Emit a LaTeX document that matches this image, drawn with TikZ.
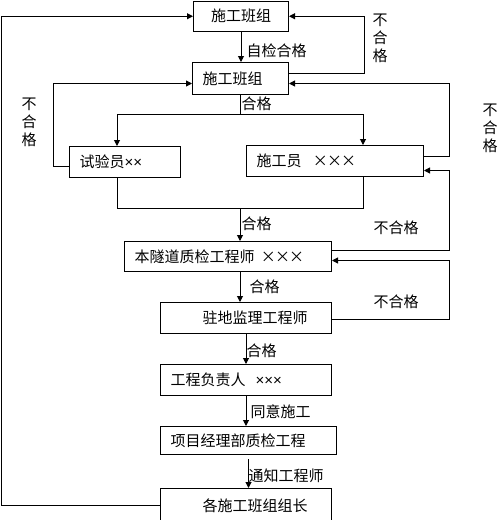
\documentclass[tikz,border=0pt]{standalone}
\usepackage{fontspec}
\setmainfont{Noto Sans CJK SC}
\newfontfamily\latx{Liberation Sans}
\usetikzlibrary{arrows.meta,calc}
\newcommand\fwx{\makebox[14pt]{×}}
\begin{document}
\begin{tikzpicture}[x=1pt,y=-1pt,line width=1pt,
  box/.style={draw,rectangle,anchor=north west,inner ysep=0pt,inner xsep=10pt,align=left,font=\fontsize{15}{15}\selectfont},
  arr/.style={-{Triangle[length=6pt,width=6pt]}},
  lab/.style={anchor=west,inner sep=0pt,font=\fontsize{15}{15}\selectfont},
  vlab/.style={align=center,inner sep=0pt,font=\fontsize{15}{18}\selectfont}]
\useasboundingbox (0,0) rectangle (503,520);
% boxes
\node[box,align=center,minimum height=30.5pt,text width=75pt] (b1) at (193,0.5) {施工班组};
\node[box,minimum height=32pt,text width=76pt] (b2) at (192,62) {施工班组};
\node[box,minimum height=31pt,text width=91pt] (syy) at (69,146) {试验员{\latx ××}};
\node[box,minimum height=31pt,text width=157pt] (sgy) at (246,145) {施工员\hspace*{12pt}\fwx\fwx\fwx};
\node[box,minimum height=30pt,text width=187pt] (bsd) at (124,241) {本隧道质检工程师\hspace*{7pt}\fwx\fwx\fwx};
\node[box,minimum height=31pt,text width=151pt] (zd) at (160,302) {\hspace*{32pt}驻地监理工程师};
\node[box,minimum height=31pt,text width=151pt] (gc) at (160,364) {工程负责人\hspace*{10pt}{\latx ×××}};
\node[box,minimum height=28pt,text width=156pt] (xm) at (160,426) {项目经理部质检工程};
\node[box,minimum height=34pt,text width=151pt] (gz) at (160,488) {\hspace*{32pt}各施工班组组长};
% top part
\draw[arr] (b1.south) -- (b1.south |- b2.north);
\node[lab] (l1) at (246,51) {自检合格};
\draw[arr] ([yshift=5pt]b2.east) -- ++(75,0) |- (b1.east);
\node[vlab] (l2) at (380,38) {不\\合\\格};
\draw[arr] (gz.west) -- ++(-159,0) |- (b1.west);
\draw[arr] ([yshift=-4.5pt]syy.west) -- ++(-16,0) |- ([yshift=-5pt]b2.west);
\node[vlab] (l3) at (29,122) {不\\合\\格};
% split below b2
\coordinate (jL) at (117,114);
\coordinate (jR) at (363,114);
\draw (b2.south) -- (b2.south |- jL);
\draw (jL) -- (jR);
\draw[arr] (jL) -- (jL |- syy.north);
\draw[arr] (jR) -- (jR |- sgy.north);
\node[lab] (l4) at (241,104) {合格};
\draw[arr] ([yshift=4.5pt]sgy.east) -- ++(25,0) |- ([yshift=-5pt]b2.east);
\node[vlab] (l5) at (490,128) {不\\合\\格};
% merge to bsd
\draw[arr] ([yshift=6pt]bsd.east) -- ++(117,0) |- ([yshift=-9.5pt]sgy.east);
\node[lab] (l6) at (373,228) {不合格};
\coordinate (kL) at (117,208);
\coordinate (kR) at (363,208);
\coordinate (kM) at (240,208);
\draw (kL |- syy.south) -- (kL) -- (kR) -- (kR |- sgy.south);
\draw[arr] (kM) -- (kM |- bsd.north);
\node[lab] (l7) at (241,224) {合格};
\draw[arr] ([yshift=-1.5pt]zd.east) -- ++(117,0) |- ([yshift=-4pt]bsd.east);
\node[lab] (l8) at (373,302) {不合格};
\draw[arr] (kM |- bsd.south) -- (kM |- zd.north);
\node[lab] (l9) at (249,287) {合格};
\draw[arr] (zd.south) -- (gc.north);
\node[lab] (l10) at (246,351) {合格};
\draw[arr] (gc.south) -- (gc.south |- xm.north);
\node[lab] (l11) at (250,412) {同意施工};
\draw[arr] ([yshift=-4pt]xm.south) -- (xm.south |- gz.north);
\node[lab] (l12) at (248,476) {通知工程师};
\end{tikzpicture}
\end{document}
